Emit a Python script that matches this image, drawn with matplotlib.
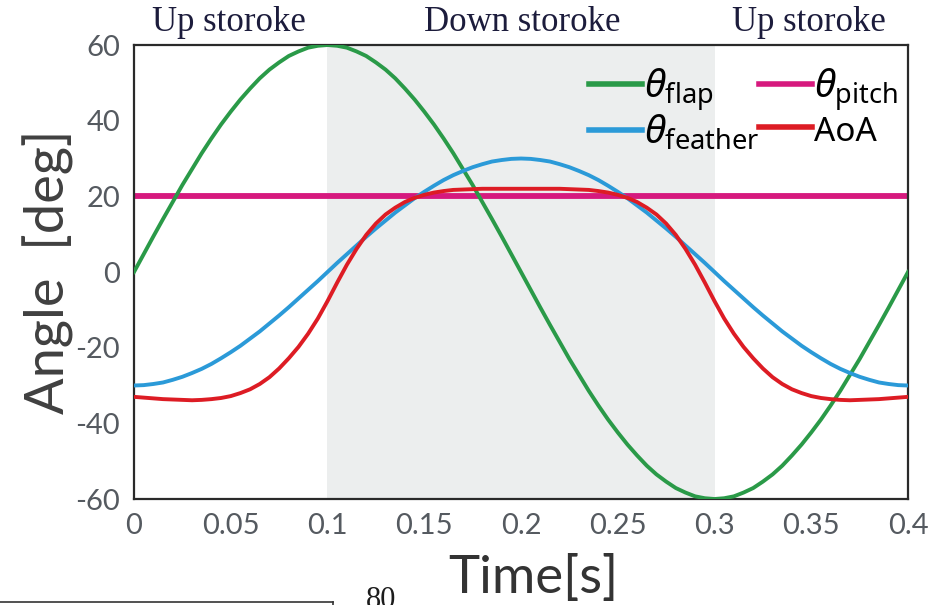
import matplotlib
matplotlib.use('Agg')
from matplotlib import pyplot as plt
from matplotlib.lines import Line2D

plt.rcParams['mathtext.fontset'] = 'custom'
plt.rcParams['mathtext.rm'] = 'Noto Sans'
plt.rcParams['mathtext.it'] = 'Noto Sans:italic'
plt.rcParams['axes.unicode_minus'] = False

# time axis, read every 0.005 s
t = [i * 0.005 for i in range(81)]

flap = [0.0, 4.7, 9.4, 14.0, 18.5, 23.0, 27.2, 31.4, 35.3, 39.0,
        42.4, 45.6, 48.5, 51.2, 53.5, 55.4, 57.1, 58.3, 59.3, 59.8,
        60.0, 59.8, 59.3, 58.3, 57.1, 55.4, 53.5, 51.2, 48.5, 45.6,
        42.4, 39.0, 35.3, 31.4, 27.2, 23.0, 18.5, 14.0, 9.4, 4.7,
        0.0, -4.7, -9.4, -14.0, -18.5, -23.0, -27.2, -31.4, -35.3, -39.0,
        -42.4, -45.6, -48.5, -51.2, -53.5, -55.4, -57.1, -58.3, -59.3, -59.8,
        -60.0, -59.8, -59.3, -58.3, -57.1, -55.4, -53.5, -51.2, -48.5, -45.6,
        -42.4, -39.0, -35.3, -31.4, -27.2, -23.0, -18.5, -14.0, -9.4, -4.7, 0.0]

feather = [-30.0, -29.9, -29.6, -29.2, -28.5, -27.7, -26.7, -25.6, -24.3, -22.8,
           -21.2, -19.5, -17.6, -15.7, -13.6, -11.5, -9.3, -7.0, -4.7, -2.4,
           0.0, 2.4, 4.7, 7.0, 9.3, 11.5, 13.6, 15.7, 17.6, 19.5,
           21.2, 22.8, 24.3, 25.6, 26.7, 27.7, 28.5, 29.2, 29.6, 29.9,
           30.0, 29.9, 29.6, 29.2, 28.5, 27.7, 26.7, 25.6, 24.3, 22.8,
           21.2, 19.5, 17.6, 15.7, 13.6, 11.5, 9.3, 7.0, 4.7, 2.4,
           0.0, -2.4, -4.7, -7.0, -9.3, -11.5, -13.6, -15.7, -17.6, -19.5,
           -21.2, -22.8, -24.3, -25.6, -26.7, -27.7, -28.5, -29.2, -29.6, -29.9, -30.0]

pitch = [20.0] * len(t)

aoa = [-33.0, -33.2, -33.4, -33.6, -33.7, -33.8, -33.9, -33.8, -33.6, -33.3,
       -32.8, -32.0, -31.0, -29.6, -27.8, -25.5, -22.8, -19.8, -16.3, -12.3,
       -7.7, -2.8, 1.9, 6.1, 9.8, 12.8, 15.2, 17.0, 18.5, 19.6,
       20.4, 21.0, 21.4, 21.7, 21.8, 21.9, 22.0, 22.0, 22.0, 22.0,
       22.0,
       22.0, 22.0, 22.0, 22.0, 21.9, 21.8, 21.7, 21.4, 21.0, 20.4,
       19.6, 18.5, 17.0, 15.2, 12.8, 9.8, 6.1, 1.9, -2.8, -7.7,
       -12.3, -16.3, -19.8, -22.8, -25.5, -27.8, -29.6, -31.0, -32.0, -32.8,
       -33.3, -33.6, -33.8, -33.9, -33.8, -33.7, -33.6, -33.4, -33.2, -33.0]

xticks = [0, 0.05, 0.1, 0.15, 0.2, 0.25, 0.3, 0.35, 0.4]
xticklabels = ['0', '0.05', '0.1', '0.15', '0.2', '0.25', '0.3', '0.35', '0.4']
yticks = [-60, -40, -20, 0, 20, 40, 60]

fig = plt.figure(figsize=(9.53, 6.05), dpi=100)
ax = fig.add_axes([0.1406, 0.1752, 0.8122, 0.7504])

# down stroke shading
ax.axvspan(0.1, 0.3, color='#eceeee', zorder=0, lw=0)

ax.plot(t, flap, color='#2a9a48', lw=2.8, label=r'$\theta_{\mathrm{flap}}$', zorder=3)
ax.plot(t, feather, color='#2b9ad8', lw=2.8, label=r'$\theta_{\mathrm{feather}}$', zorder=3)
ax.plot(t, pitch, color='#d6197e', lw=4.2, label=r'$\theta_{\mathrm{pitch}}$', zorder=2)
ax.plot(t, aoa, color='#dd1c24', lw=2.8, label='AoA', zorder=4)

ax.set_xlim(0, 0.4)
ax.set_ylim(-60, 60)
ax.set_xticks(xticks)
ax.set_xticklabels(xticklabels)
ax.set_yticks(yticks)
ax.tick_params(length=0, labelsize=21, labelcolor='#555a60', pad=10)
for lab in ax.get_xticklabels() + ax.get_yticklabels():
    lab.set_family('Lato')
for sp in ax.spines.values():
    sp.set_color('#2a2a2a')
    sp.set_linewidth(1.6)

ax.set_xlabel('Time[s]', fontsize=38, family='Lato', color='#333333')
ax.xaxis.set_label_coords(0.516, -0.121)
ax.set_ylabel('Angle  [deg]', fontsize=39, family='Lato', color='#404040', labelpad=1)

# stroke labels on top
tr = ax.get_xaxis_transform()
ax.text(0.049, 1.05, 'Up storoke', transform=tr, ha='center', va='center',
        family='Liberation Serif', fontsize=25, color='#1c1c3c')
ax.text(0.2005, 1.05, 'Down storoke', transform=tr, ha='center', va='center',
        family='Liberation Serif', fontsize=25, color='#1c1c3c')
ax.text(0.349, 1.05, 'Up storoke', transform=tr, ha='center', va='center',
        family='Liberation Serif', fontsize=25, color='#1c1c3c')

leg = ax.legend(ncol=2, loc='upper left', bbox_to_anchor=(0.588, 0.953),
                frameon=False, prop={'family': 'Noto Sans', 'size': 28},
                handlelength=1.35, handletextpad=0.05, columnspacing=0.0,
                labelspacing=0.0, borderaxespad=0.0, borderpad=0.0)
leg.get_texts()[3].set_fontsize(24)
for ln in leg.get_lines():
    ln.set_linewidth(4)

# bits of the next figure cut off at the bottom
fig.add_artist(Line2D([0, 333 / 953], [1 - 602 / 605, 1 - 602 / 605], color='#333333', lw=1.2))
fig.add_artist(Line2D([333 / 953, 333 / 953], [0, 1 - 602 / 605], color='#333333', lw=1.2))
fig.text(366 / 953, 1 - 586 / 605, '80', family='Liberation Serif', fontsize=22,
         color='#1c1c1c', va='top')

fig.savefig('out.png', dpi=100)
